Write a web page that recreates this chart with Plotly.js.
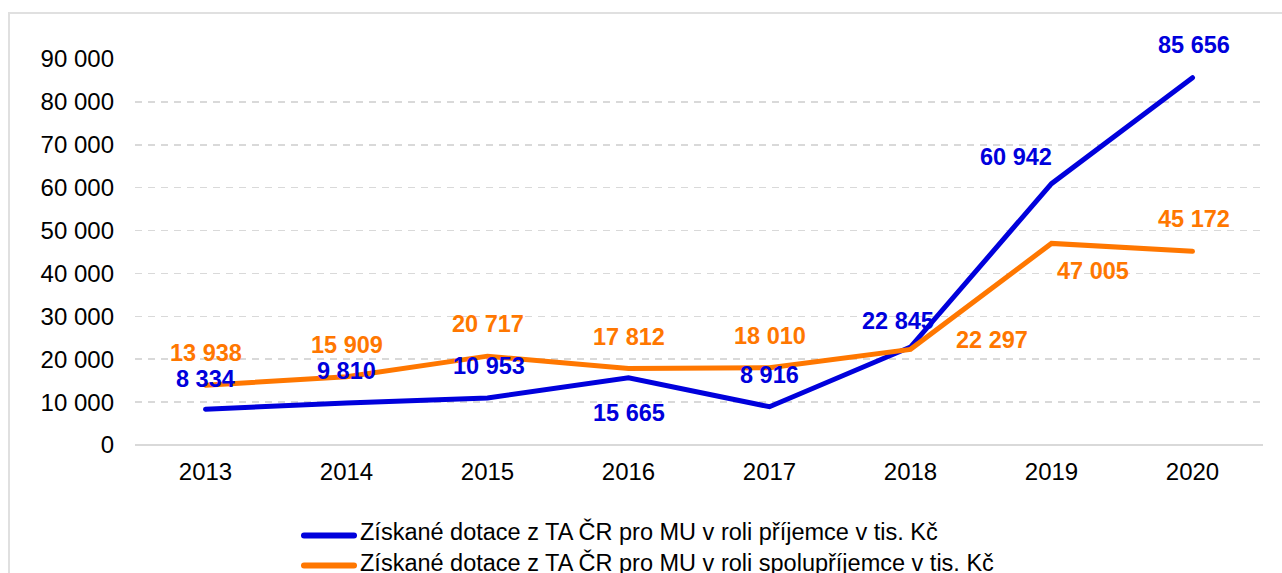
<!DOCTYPE html>
<html>
<head>
<meta charset="utf-8">
<script src="https://cdn.plot.ly/plotly-3.0.1.min.js"></script>
<style>
  html, body { margin: 0; padding: 0; background: #fff; overflow: hidden; }
  #frame { position: absolute; left: 8px; top: 12px; width: 1400px; height: 700px; border: 2px solid #e0e0e0; box-sizing: border-box; }
  #chart { position: absolute; left: 0; top: 0; width: 1282px; height: 573px; }
  #chart .scatterlayer path.js-line { stroke-linecap: round; }
  #chart .shapelayer path { stroke-linecap: round; }
</style>
</head>
<body>
<div id="frame"></div>
<div id="chart"></div>
<script>
// ---- data ----
const years = ['2013', '2014', '2015', '2016', '2017', '2018', '2019', '2020'];
const prijemce = [8334, 9810, 10953, 15665, 8916, 22845, 60942, 85656];
const spoluprijemce = [13938, 15909, 20717, 17812, 18010, 22297, 47005, 45172];
const seriesNames = [
  'Získané dotace z TA ČR pro MU v roli příjemce v tis. Kč',
  'Získané dotace z TA ČR pro MU v roli spolupříjemce v tis. Kč'
];
const yTicks = [0, 10000, 20000, 30000, 40000, 50000, 60000, 70000, 80000, 90000];

// ---- styles ----
const BLUE = '#0000DC';
const ORANGE = '#FF7700';
const FONT = 'Liberation Sans, Arial, sans-serif';
// label pixel offsets [xshift, yshift] per point
const blueOffsets = [[0,30],[0,32],[1,32],[0,-35],[0,32],[-13,26],[-36,27],[1,33]];
const orangeOffsets = [[0,32],[0,32],[0,32],[0,32],[0,32],[81,9],[41,-28],[1,32]];

function fmt(v) {
  return String(v).replace(/\B(?=(\d{3})+(?!\d))/g, ' ');
}

const traces = [
  { x: years, y: prijemce, type: 'scatter', mode: 'lines', name: seriesNames[0],
    line: { color: BLUE, width: 5 }, showlegend: false, hoverinfo: 'none' },
  { x: years, y: spoluprijemce, type: 'scatter', mode: 'lines', name: seriesNames[1],
    line: { color: ORANGE, width: 5 }, showlegend: false, hoverinfo: 'none' }
];

const annotations = [];
function addLabels(vals, offs, color) {
  vals.forEach((v, i) => {
    annotations.push({
      x: i, y: v, xref: 'x', yref: 'y', text: fmt(v), showarrow: false,
      xanchor: 'center', yanchor: 'middle', xshift: offs[i][0], yshift: offs[i][1],
      font: { family: FONT, size: 23.5, color: color, weight: 'bold' }
    });
  });
}
addLabels(prijemce, blueOffsets, BLUE);
addLabels(spoluprijemce, orangeOffsets, ORANGE);

// custom legend (paper coords: plot x 135..1263, y 59..445)
const PX = x => (x - 135) / 1128;
const PY = y => (445 - y) / 386;
const shapes = [
  { type: 'line', xref: 'paper', yref: 'paper', x0: PX(304), x1: PX(354), y0: PY(535.5), y1: PY(535.5),
    line: { color: BLUE, width: 6 }, layer: 'above' },
  { type: 'line', xref: 'paper', yref: 'paper', x0: PX(304), x1: PX(354), y0: PY(565.5), y1: PY(565.5),
    line: { color: ORANGE, width: 6 }, layer: 'above' }
];
annotations.push({ xref: 'paper', yref: 'paper', x: PX(358), y: PY(531), text: seriesNames[0],
  showarrow: false, xanchor: 'left', yanchor: 'middle', font: { family: FONT, size: 23.5, color: '#000' } });
annotations.push({ xref: 'paper', yref: 'paper', x: PX(358), y: PY(562), text: seriesNames[1],
  showarrow: false, xanchor: 'left', yanchor: 'middle', font: { family: FONT, size: 23.5, color: '#000' } });

const layout = {
  width: 1282, height: 573,
  margin: { l: 135, r: 19, t: 59, b: 128 },
  paper_bgcolor: 'rgba(0,0,0,0)', plot_bgcolor: 'rgba(0,0,0,0)',
  font: { family: FONT, size: 24, color: '#000' },
  separators: ', ',
  showlegend: false,
  xaxis: {
    type: 'category', range: [-0.5, 7.5], autorange: false,
    showgrid: false, zeroline: false, showline: false,
    ticks: '', ticklabelstandoff: 10,
    tickfont: { family: FONT, size: 24, color: '#000' }
  },
  yaxis: {
    range: [0, 90000], autorange: false, tickvals: yTicks, ticktext: yTicks.map(fmt),
    showgrid: true, gridcolor: '#d9d9d9', gridwidth: 1.5, griddash: '7px,6px',
    zeroline: true, zerolinecolor: '#d9d9d9', zerolinewidth: 2,
    showline: false, ticks: '', ticklabelstandoff: 20,
    tickfont: { family: FONT, size: 24, color: '#000' }
  },
  annotations: annotations,
  shapes: shapes
};

Plotly.newPlot('chart', traces, layout, { staticPlot: true, displayModeBar: false });
</script>
</body>
</html>
